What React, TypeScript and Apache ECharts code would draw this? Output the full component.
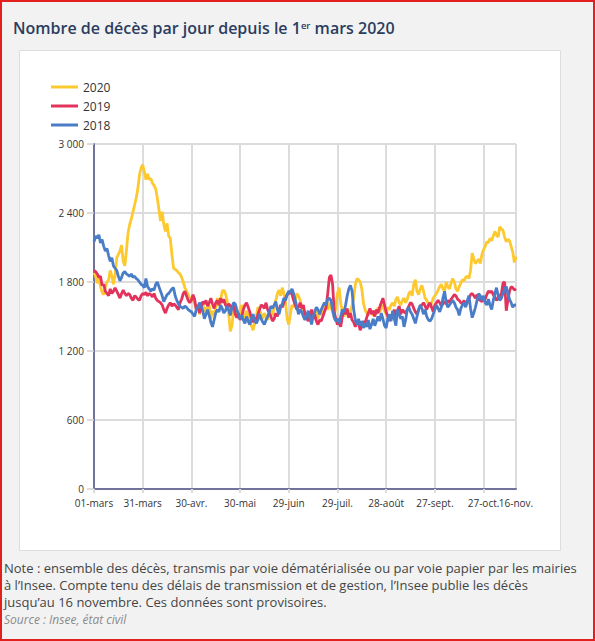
import React, { useEffect, useRef } from "react";
import * as echarts from "echarts";

// x positions are day offsets from 1 March 2020 (day 0) to 16 November (day 260)
const tickDays = [0, 30, 60, 90, 120, 150, 180, 210, 240, 260];
const tickLabels = [
  "01-mars", "31-mars", "30-avr.", "30-mai", "29-juin",
  "29-juil.", "28-août", "27-sept.", "27-oct.", "16-nov.",
];

const seriesNames = ["2020", "2019", "2018"];

const deaths2020 = [
  1880, 1850, 1790, 1830, 1760, 1710, 1690, 1760, 1800, 1820,
  1900, 1850, 1780, 1860, 2010, 2040, 2070, 2120, 1980, 1940,
  2080, 2230, 2300, 2350, 2410, 2470, 2530, 2610, 2730, 2790,
  2820, 2760, 2690, 2740, 2690, 2700, 2660, 2640, 2610, 2530,
  2430, 2330, 2410, 2300, 2240, 2310, 2200, 2180, 2040, 1920,
  1910, 1900, 1880, 1870, 1840, 1800, 1750, 1720, 1690, 1660,
  1630, 1660, 1610, 1570, 1600, 1520, 1560, 1620, 1540, 1580,
  1520, 1600, 1480, 1550, 1510, 1580, 1660, 1590, 1640, 1720,
  1730, 1700, 1640, 1520, 1370, 1420, 1560, 1590, 1530, 1480,
  1560, 1600, 1520, 1480, 1550, 1510, 1460, 1420, 1380, 1440,
  1500, 1580, 1560, 1520, 1480, 1530, 1500, 1470, 1520, 1550,
  1510, 1580, 1640, 1700, 1730, 1680, 1750, 1700, 1620, 1480,
  1430, 1520, 1600, 1580, 1640, 1700, 1680, 1640, 1580, 1560,
  1520, 1480, 1540, 1500, 1460, 1510, 1560, 1520, 1480, 1550,
  1510, 1570, 1540, 1600, 1560, 1620, 1580, 1540, 1500, 1580,
  1700, 1750, 1620, 1540, 1500, 1560, 1520, 1490, 1540, 1600,
  1660, 1780, 1830, 1820, 1800, 1740, 1620, 1560, 1530, 1510,
  1560, 1530, 1510, 1550, 1520, 1580, 1540, 1570, 1600, 1550,
  1520, 1580, 1560, 1600, 1620, 1590, 1650, 1670, 1620, 1600,
  1640, 1660, 1620, 1650, 1700, 1720, 1680, 1780, 1820, 1720,
  1690, 1740, 1770, 1720, 1660, 1640, 1610, 1580, 1620, 1660,
  1680, 1700, 1730, 1760, 1780, 1740, 1720, 1800, 1760, 1740,
  1790, 1830, 1800, 1740, 1720, 1760, 1790, 1820, 1810, 1840,
  1850, 1830, 1900, 2050, 2000, 1960, 1980, 2000, 1960, 2040,
  2080, 2110, 2150, 2140, 2180, 2160, 2200, 2240, 2210, 2190,
  2280, 2260, 2250, 2190, 2150, 2170, 2160, 2110, 2060, 1970,
  2020,
];

const deaths2019 = [
  1900, 1890, 1870, 1840, 1850, 1770, 1780, 1720, 1700, 1680,
  1740, 1700, 1720, 1750, 1720, 1690, 1660, 1700, 1730, 1700,
  1680, 1700, 1690, 1660, 1640, 1680, 1670, 1650, 1640, 1680,
  1700, 1690, 1710, 1680, 1700, 1690, 1670, 1700, 1660, 1640,
  1630, 1620, 1600, 1560, 1530, 1570, 1600, 1620, 1590, 1610,
  1600, 1580, 1560, 1620, 1650, 1700, 1720, 1680, 1640, 1620,
  1640, 1690, 1650, 1560, 1600, 1530, 1570, 1630, 1610, 1640,
  1590, 1620, 1660, 1610, 1570, 1620, 1640, 1600, 1660, 1620,
  1650, 1600, 1580, 1610, 1590, 1570, 1610, 1520, 1490, 1530,
  1470, 1500, 1560, 1600, 1620, 1580, 1540, 1480, 1450, 1490,
  1460, 1520, 1560, 1600, 1590, 1570, 1620, 1560, 1530, 1500,
  1460, 1480, 1530, 1500, 1560, 1600, 1580, 1620, 1660, 1690,
  1700, 1720, 1690, 1640, 1600, 1560, 1580, 1620, 1570, 1600,
  1520, 1490, 1460, 1500, 1560, 1480, 1520, 1460, 1430, 1470,
  1460, 1500, 1540, 1580, 1700, 1840, 1860, 1780, 1540, 1480,
  1430, 1460, 1410, 1500, 1560, 1520, 1570, 1490, 1530, 1470,
  1450, 1410, 1460, 1440, 1380, 1420, 1460, 1440, 1490, 1530,
  1570, 1520, 1550, 1500, 1560, 1530, 1580, 1620, 1660, 1600,
  1540, 1500, 1460, 1520, 1480, 1560, 1500, 1550, 1590, 1520,
  1560, 1540, 1530, 1560, 1590, 1620, 1610, 1570, 1540, 1520,
  1560, 1590, 1600, 1620, 1590, 1560, 1600, 1620, 1580, 1540,
  1600, 1620, 1640, 1620, 1590, 1610, 1630, 1610, 1640, 1620,
  1650, 1670, 1690, 1680, 1650, 1640, 1620, 1610, 1640, 1600,
  1620, 1650, 1690, 1700, 1680, 1660, 1690, 1650, 1640, 1630,
  1660, 1650, 1690, 1720, 1710, 1720, 1690, 1670, 1640, 1660,
  1680, 1700, 1790, 1800, 1550, 1640, 1720, 1760, 1750, 1730,
  1740,
];

const deaths2018 = [
  2150, 2200, 2180, 2210, 2140, 2170, 2110, 2070, 2090, 2030,
  1980, 2010, 1940, 1920, 1900, 1850, 1810, 1840, 1880, 1890,
  1870, 1860, 1850, 1870, 1840, 1850, 1830, 1820, 1800, 1780,
  1770, 1750, 1830, 1760, 1740, 1720, 1740, 1730, 1780, 1800,
  1760, 1720, 1680, 1630, 1660, 1690, 1700, 1720, 1740, 1750,
  1680, 1640, 1610, 1590, 1580, 1570, 1590, 1580, 1560, 1550,
  1540, 1520, 1500, 1560, 1580, 1620, 1590, 1550, 1480, 1520,
  1560, 1510, 1450, 1410, 1470, 1530, 1560, 1540, 1600, 1570,
  1530, 1550, 1590, 1560, 1510, 1580, 1620, 1610, 1560, 1520,
  1480, 1510, 1470, 1440, 1500, 1460, 1430, 1480, 1520, 1470,
  1440, 1470, 1520, 1480, 1450, 1430, 1470, 1500, 1540, 1590,
  1570, 1600, 1630, 1560, 1520, 1580, 1610, 1660, 1640, 1690,
  1720, 1710, 1740, 1700, 1640, 1580, 1520, 1560, 1540, 1500,
  1470, 1510, 1550, 1490, 1430, 1500, 1540, 1580, 1560, 1520,
  1560, 1590, 1620, 1600, 1650, 1660, 1640, 1560, 1490, 1460,
  1480, 1440, 1500, 1560, 1540, 1600, 1680, 1740, 1770, 1720,
  1560, 1470, 1430, 1480, 1420, 1460, 1400, 1440, 1410, 1470,
  1390, 1430, 1480, 1420, 1460, 1500, 1460, 1530, 1480, 1420,
  1400, 1480, 1520, 1460, 1550, 1480, 1420, 1560, 1520, 1480,
  1500, 1410, 1470, 1560, 1580, 1540, 1520, 1480, 1440, 1500,
  1560, 1600, 1570, 1520, 1560, 1500, 1470, 1460, 1480, 1520,
  1560, 1600, 1570, 1540, 1580, 1660, 1720, 1620, 1580, 1600,
  1620, 1640, 1620, 1580, 1560, 1510, 1570, 1600, 1620, 1580,
  1640, 1680, 1570, 1490, 1530, 1580, 1640, 1700, 1680, 1640,
  1680, 1620, 1600, 1650, 1600, 1560, 1640, 1700, 1750, 1680,
  1640, 1660, 1700, 1740, 1760, 1700, 1650, 1620, 1580, 1600,
  1600,
];

const titleText = "Nombre de décès par jour depuis le 1";
const titleSup = "er";
const titleEnd = " mars 2020";
const noteLines = [
  "Note : ensemble des décès, transmis par voie dématérialisée ou par voie papier par les mairies",
  "à l’Insee. Compte tenu des délais de transmission et de gestion, l’Insee publie les décès",
  "jusqu’au 16 novembre. Ces données sont provisoires.",
];
const sourceText = "Source : Insee, état civil";

const FONT = "Open Sans";
const LAST_DAY = tickDays[tickDays.length - 1];

function fmtThousands(v: number): string {
  const s = String(Math.round(v));
  return s.replace(/\B(?=(\d{3})+(?!\d))/g, " ");
}

function dayLabel(v: number): string {
  const i = tickDays.indexOf(Math.round(v));
  return i >= 0 ? tickLabels[i] : "";
}

export default function App() {
  const ref = useRef<HTMLDivElement>(null);

  useEffect(() => {
    document.body.style.margin = "0";
    if (!ref.current) return;
    const chart = echarts.init(ref.current, null, { renderer: "svg" });

    const seriesData = [deaths2020, deaths2019, deaths2018];
    const colors = ["#fdc92f", "#e3335c", "#4a7dc8"];

    const labelStyle = { fontSize: 10, color: "#333", fontFamily: FONT };

    chart.setOption({
      animation: false,
      textStyle: { fontFamily: FONT },
      graphic: [
        {
          type: "rect",
          z: -20,
          silent: true,
          shape: { x: 0, y: 0, width: 595, height: 641 },
          style: { fill: "#f2f2f2" },
        },
        {
          type: "rect",
          z: -19,
          silent: true,
          shape: { x: 19.5, y: 50.5, width: 541, height: 500 },
          style: { fill: "#ffffff", stroke: "#dedede", lineWidth: 1 },
        },
        {
          type: "text",
          x: 13,
          y: 17,
          style: {
            text: `{a|${titleText}}{s|${titleSup}}{a|${titleEnd}}`,
            rich: {
              a: {
                fontSize: 16,
                fontWeight: 600,
                fontFamily: FONT,
                fill: "#2b3d5f",
                lineHeight: 22,
              },
              s: {
                fontSize: 9.5,
                fontWeight: 600,
                fontFamily: FONT,
                fill: "#2b3d5f",
                lineHeight: 12,
                padding: [0, 0, 5, 0],
                verticalAlign: "middle",
              },
            },
          },
        },
        {
          type: "text",
          x: 4,
          y: 560,
          style: {
            text: noteLines.join("\n"),
            fontSize: 13,
            fontFamily: FONT,
            fill: "#454545",
            lineHeight: 16.7,
          },
        },
        {
          type: "text",
          x: 4,
          y: 611,
          style: {
            text: sourceText,
            fontSize: 12,
            fontStyle: "italic",
            fontFamily: FONT,
            fill: "#8a8a8a",
            lineHeight: 16,
          },
        },
        {
          type: "rect",
          z: 100,
          silent: true,
          shape: { x: 1, y: 1, width: 593, height: 639 },
          style: { fill: "none", stroke: "#e3201e", lineWidth: 2 },
        },
      ],
      legend: {
        orient: "vertical",
        left: 46,
        top: 75,
        itemWidth: 27,
        itemHeight: 3,
        itemGap: 5,
        icon: "rect",
        data: seriesNames,
        textStyle: { fontSize: 12, color: "#333", fontFamily: FONT, lineHeight: 14 },
      },
      grid: {
        left: 94,
        right: 79,
        top: 144,
        bottom: 152,
        outerBoundsMode: "none",
      },
      xAxis: [
        {
          type: "value",
          min: 0,
          max: LAST_DAY,
          interval: 30,
          position: "bottom",
          axisLine: { show: true, onZero: false, lineStyle: { color: "#72739b", width: 2 } },
          axisTick: { show: true, length: 4, lineStyle: { color: "#dcdcdc", width: 2 } },
          splitLine: { show: true, lineStyle: { color: "#dcdcdc", width: 2 } },
          axisLabel: {
            ...labelStyle,
            showMinLabel: true,
            showMaxLabel: false,
            hideOverlap: false,
            margin: 9,
            formatter: (v: number) => (Math.round(v) === LAST_DAY ? "" : dayLabel(v)),
          },
        },
        {
          type: "value",
          min: 0,
          max: LAST_DAY,
          interval: 30,
          position: "bottom",
          axisLine: { show: false, onZero: false },
          axisTick: { show: false },
          splitLine: { show: false },
          axisLabel: {
            ...labelStyle,
            showMinLabel: false,
            showMaxLabel: true,
            hideOverlap: false,
            margin: 9,
            formatter: (v: number) => (Math.round(v) === LAST_DAY ? dayLabel(v) : ""),
          },
        },
      ],
      yAxis: {
        type: "value",
        min: 0,
        max: 3000,
        interval: 600,
        axisLine: { show: true, lineStyle: { color: "#72739b", width: 2 } },
        axisTick: { show: true, length: 7, lineStyle: { color: "#d0d0d0", width: 1.5 } },
        splitLine: { show: true, lineStyle: { color: "#dcdcdc", width: 2 } },
        axisLabel: {
          ...labelStyle,
          margin: 10,
          formatter: (v: number) => fmtThousands(v),
        },
      },
      series: seriesNames.map((name, k) => ({
        name,
        type: "line",
        xAxisIndex: 0,
        showSymbol: false,
        symbol: "none",
        color: colors[k],
        lineStyle: { width: 2.8, color: colors[k] },
        data: seriesData[k].map((v, i) => [i, v]),
      })),
    });

    return () => chart.dispose();
  }, []);

  return <div ref={ref} style={{ width: 595, height: 641 }} />;
}
